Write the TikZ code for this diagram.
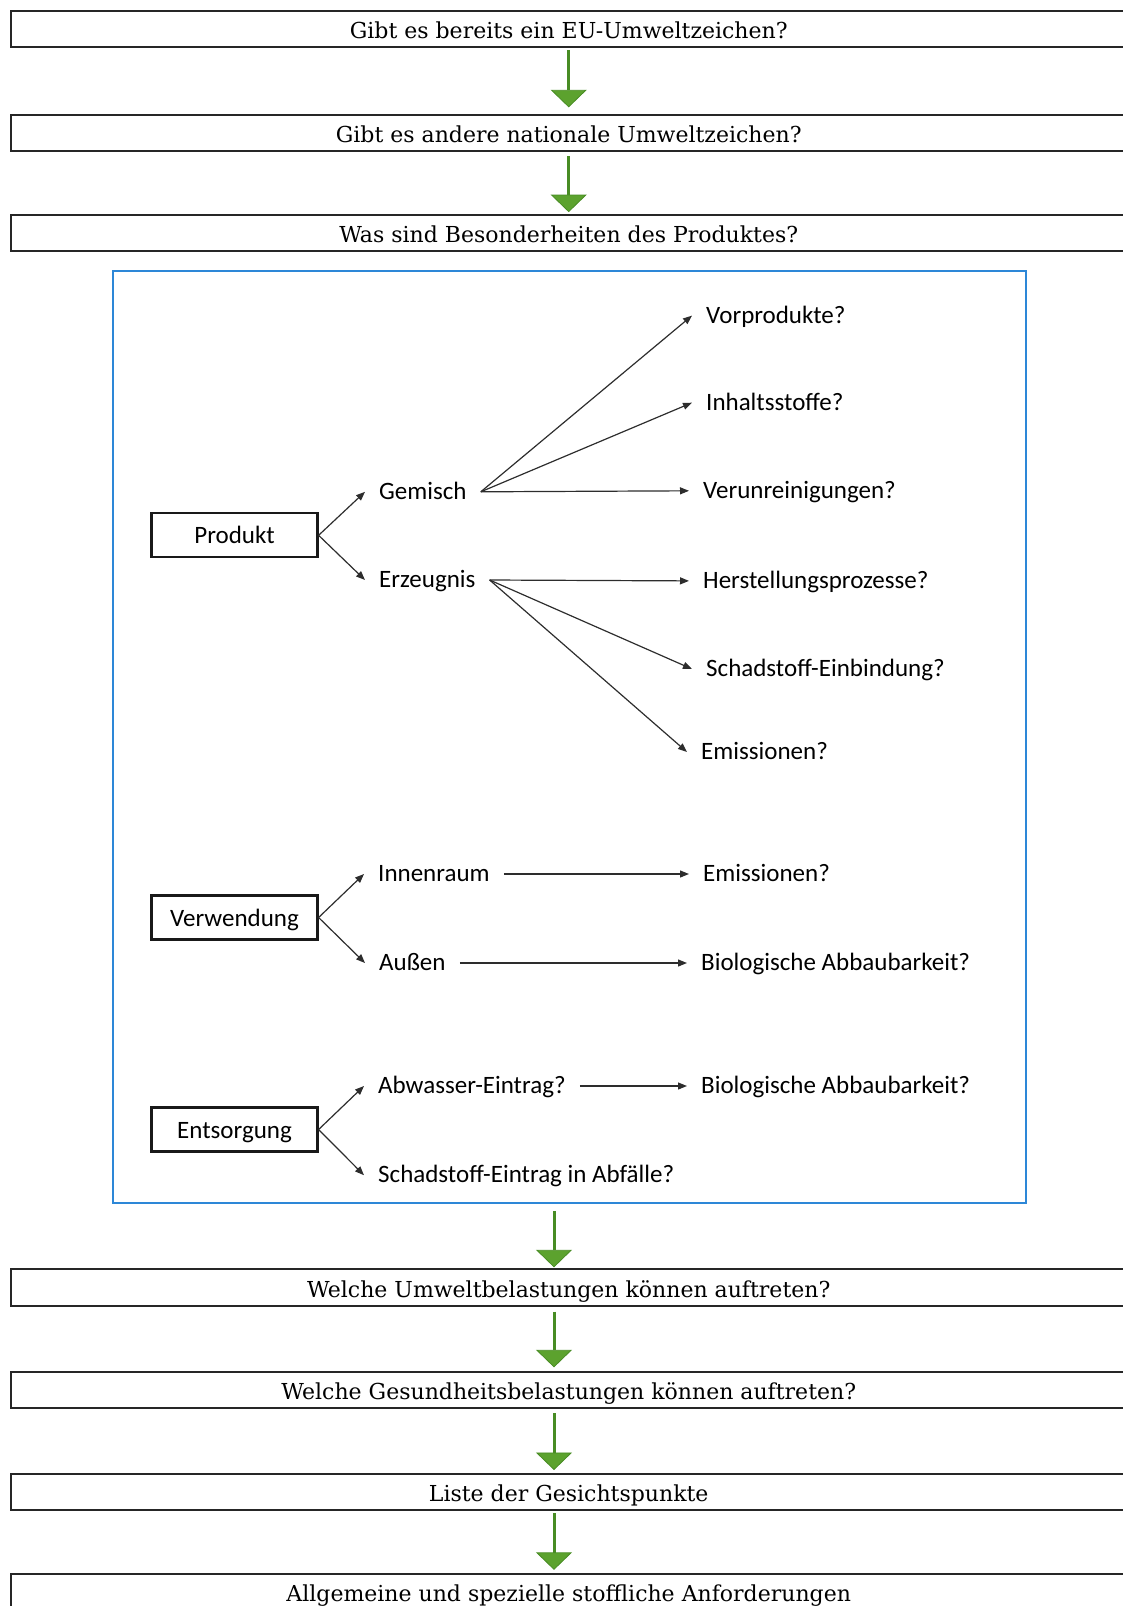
\documentclass[tikz,border=0pt]{standalone}
\usepackage{fontspec}
\setmainfont{DejaVu Serif}
\newfontfamily\carl{Carlito}
\usetikzlibrary{arrows.meta}
\definecolor{gline}{RGB}{72,140,36}
\definecolor{gfill}{RGB}{92,162,46}
\definecolor{fblue}{RGB}{45,135,215}
\definecolor{dk}{RGB}{45,45,45}
\begin{document}
\begin{tikzpicture}[x=1pt,y=-1pt,
  topbox/.style={draw=black!85, line width=2pt, minimum width=1115pt, minimum height=36.3pt,
    inner sep=0pt, font=\fontsize{22}{26}\selectfont, text height=21pt, text depth=2pt},
  frame/.style={draw=fblue, line width=2pt, minimum width=913pt, minimum height=932pt, inner sep=0pt},
  innerbox/.style={draw=black!90, line width=2.2pt, minimum width=166pt, minimum height=44pt,
    inner sep=0pt, font=\carl\fontsize{25}{30}\selectfont, text height=19pt, text depth=2pt},
  lbl/.style={anchor=west, inner xsep=14pt, inner ysep=0pt, font=\carl\fontsize{25}{30}\selectfont,
    text height=16pt, text depth=0.5pt},
  flowarrow/.style={draw=gline, line width=3pt,
    -{Triangle[length=17.5pt,width=36pt,fill=gfill,line width=0.8pt]}},
  conn/.style={draw=dk, line width=1.2pt, -{Triangle[length=9pt,width=7pt]}}
]
\useasboundingbox (0,0) rectangle (1123,1606);
\clip (0,0) rectangle (1123,1606);

% main flow boxes
\node[topbox] (b1) at (568.7,29.2) {Gibt es bereits ein EU-Umweltzeichen?};
\node[topbox] (b2) at (568.7,133.0) {Gibt es andere nationale Umweltzeichen?};
\node[topbox] (b3) at (568.7,232.8) {Was sind Besonderheiten des Produktes?};
\node[frame]  (fr) at (569.2,737) {};
\node[topbox] (b4) at (568.7,1287.5) {Welche Umweltbelastungen können auftreten?};
\node[topbox] (b5) at (568.7,1389.9) {Welche Gesundheitsbelastungen können auftreten?};
\node[topbox] (b6) at (568.7,1491.9) {Liste der Gesichtspunkte};
\node[topbox] (b7) at (568.7,1591.7) {Allgemeine und spezielle stoffliche Anforderungen};

% green flow arrows
\draw[flowarrow, shorten <=2pt, shorten >=6.5pt] (b1.south) -- (b2.north);
\draw[flowarrow, shorten <=4pt, shorten >=1.5pt] (b2.south) -- (b3.north);
\draw[flowarrow, shorten <=7pt, shorten >=1pt] ([xshift=-15.2pt]fr.south) -- ([xshift=-14.7pt]b4.north);
\draw[flowarrow, shorten <=5pt, shorten >=3.4pt] ([xshift=-14.7pt]b4.south) -- ([xshift=-14.7pt]b5.north);
\draw[flowarrow, shorten <=4.3pt, shorten >=2.7pt] ([xshift=-14.7pt]b5.south) -- ([xshift=-14.7pt]b6.north);
\draw[flowarrow, shorten <=2.3pt, shorten >=2.7pt] ([xshift=-14.7pt]b6.south) -- ([xshift=-14.7pt]b7.north);

% inner boxes
\node[innerbox] (prod) at (234.5,535.3) {Produkt};
\node[innerbox] (verw) at (234.5,917.5) {Verwendung};
\node[innerbox] (ents) at (234.5,1129.5) {Entsorgung};

% labels
\node[lbl] (gem)    at (365,491.8) {Gemisch};
\node[lbl] (erz)    at (365,580.0) {Erzeugnis};
\node[lbl] (vor)    at (692,315.6) {Vorprodukte?};
\node[lbl] (inh)    at (692,402.7) {Inhaltsstoffe?};
\node[lbl] (verun)  at (689,490.8) {Verunreinigungen?};
\node[lbl] (herst)  at (689,580.9) {Herstellungsprozesse?};
\node[lbl] (schadE) at (692,669.0) {Schadstoff-Einbindung?};
\node[lbl] (emiA)   at (687,752.0) {Emissionen?};
\node[lbl] (innen)  at (364,874.0) {Innenraum};
\node[lbl] (aussen) at (365,963.0) {Außen};
\node[lbl] (emiB)   at (689,874.0) {Emissionen?};
\node[lbl] (bioA)   at (687,963.0) {Biologische Abbaubarkeit?};
\node[lbl] (abw)    at (364,1086.0) {Abwasser-Eintrag?};
\node[lbl] (schadA) at (364,1175.2) {Schadstoff-Eintrag in Abfälle?};
\node[lbl] (bioB)   at (687,1086.0) {Biologische Abbaubarkeit?};

% connectors
\draw[conn] (prod.east) -- (gem.west);
\draw[conn] (prod.east) -- (erz.west);
\draw[conn] (gem.east) -- (vor.west);
\draw[conn] (gem.east) -- (inh.west);
\draw[conn] (gem.east) -- (verun.west);
\draw[conn] (erz.east) -- (herst.west);
\draw[conn] (erz.east) -- (schadE.west);
\draw[conn] (erz.east) -- (emiA.west);
\draw[conn] (verw.east) -- (innen.west);
\draw[conn] (verw.east) -- (aussen.west);
\draw[conn] (innen.east) -- (emiB.west);
\draw[conn] (aussen.east) -- (bioA.west);
\draw[conn] (ents.east) -- (abw.west);
\draw[conn] (ents.east) -- (schadA.west);
\draw[conn] (abw.east) -- (bioB.west);
\end{tikzpicture}
\end{document}
